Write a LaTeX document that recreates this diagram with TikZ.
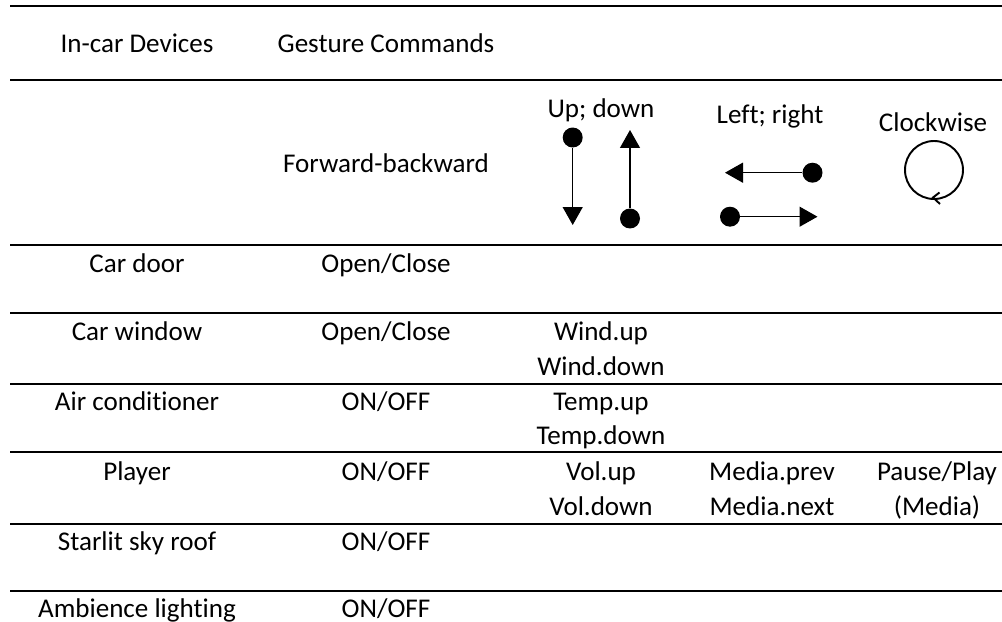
\documentclass[tikz,border=0pt]{standalone}
\usepackage{fontspec}
\setmainfont{Carlito}[Ligatures=NoCommon]
\usetikzlibrary{arrows.meta}

\begin{document}
\begin{tikzpicture}[x=0.02cm, y=-0.02cm,
    cell/.style={anchor=base, inner sep=0pt, font=\fontsize{15.4}{18}\selectfont},
    rule/.style={line width=1.15pt},
    gest/.style={line width=0.75pt, -{Triangle[width=0.4cm, length=0.36cm]}},
    dot/.style={circle, fill, inner sep=0pt, minimum size=0.4cm}]
    \useasboundingbox (0,0) rectangle (1002,622);
    % rules of the table
    \foreach \y in {6,80,245,313,384,452,524,591}
        \draw[rule] (10,\y) -- (1002,\y);
    % header
    \node[cell] (hdev) at (137,52) {In-car Devices};
    \node[cell] (hcmd) at (386,52) {Gesture Commands};
    \node[cell] (fb) at (386,172) {Forward-backward};
    \node[cell] (ud) at (601,117) {Up; down};
    \node[cell] (lr) at (770,123) {Left; right};
    \node[cell] (cw) at (933,131.5) {Clockwise};
    % up; down
    \node[dot] (dd) at (572.7,137.5) {};
    \coordinate (dt) at (572.7,225);
    \draw[gest] (dd) -- (dt);
    \node[dot] (ud1) at (630,218.5) {};
    \coordinate (ut) at (630,130);
    \draw[gest] (ud1) -- (ut);
    % left; right
    \node[dot] (ld) at (812.5,172.7) {};
    \coordinate (lt) at (725,172.7);
    \draw[gest] (ld) -- (lt);
    \node[dot] (rd) at (730,216.7) {};
    \coordinate (rt) at (817.5,216.7);
    \draw[gest] (rd) -- (rt);
    % clockwise
    \node[circle, draw, line width=1.1pt, inner sep=0pt, minimum size=1.16cm] (clk) at (934,170) {};
    \draw[line width=1.1pt] (933,197.5) ++(6.5,-5) -- ++(-6.5,5) -- ++(7,6.5);
    % rows
    \node[cell] (d1) at (137,272) {Car door};
    \node[cell] (c1) at (386,272) {Open/Close};
    \node[cell] (d2) at (137,340) {Car window};
    \node[cell] (c2) at (386,340) {Open/Close};
    \node[cell] (u2) at (601,340) {Wind.up};
    \node[cell] (v2) at (601,375) {Wind.down};
    \node[cell] (d3) at (137,410.5) {Air conditioner};
    \node[cell] (c3) at (386,410.5) {ON/OFF};
    \node[cell] (u3) at (601,410.5) {Temp.up};
    \node[cell] (v3) at (601,444.5) {Temp.down};
    \node[cell] (d4) at (137,480.5) {Player};
    \node[cell] (c4) at (386,480.5) {ON/OFF};
    \node[cell] (u4) at (601,480.5) {Vol.up};
    \node[cell] (v4) at (601,515) {Vol.down};
    \node[cell] (m4) at (772,480.5) {Media.prev};
    \node[cell] (n4) at (772,515) {Media.next};
    \node[cell] (p4) at (937,480.5) {Pause/Play};
    \node[cell] (q4) at (937,515) {(Media)};
    \node[cell] (d5) at (137,550) {Starlit sky roof};
    \node[cell] (c5) at (386,550) {ON/OFF};
    \node[cell] (d6) at (137,617) {Ambience lighting};
    \node[cell] (c6) at (386,617) {ON/OFF};
\end{tikzpicture}
\end{document}
